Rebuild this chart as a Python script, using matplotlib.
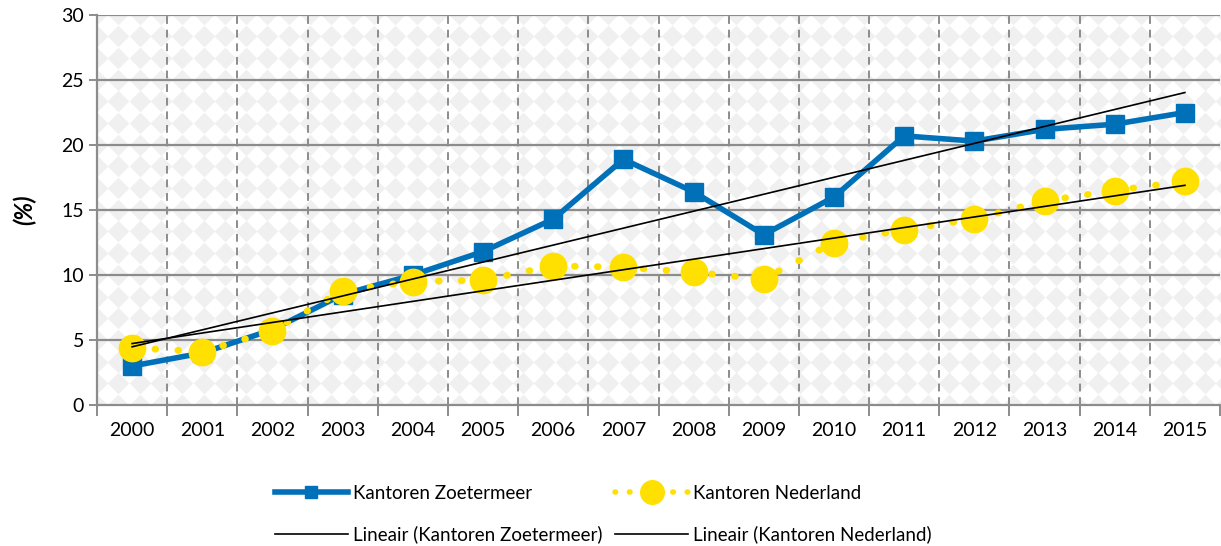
import numpy as np
import matplotlib
matplotlib.use("Agg")
import matplotlib.pyplot as plt
from matplotlib.lines import Line2D

plt.rcParams["font.family"] = ["Lato", "DejaVu Sans"]

# Data
years = ["2000", "2001", "2002", "2003", "2004", "2005", "2006", "2007",
         "2008", "2009", "2010", "2011", "2012", "2013", "2014", "2015"]
zoetermeer = [3.0, 4.0, 5.8, 8.5, 10.0, 11.8, 14.3, 18.9,
              16.4, 13.1, 16.0, 20.7, 20.3, 21.2, 21.6, 22.5]
nederland = [4.4, 4.1, 5.7, 8.8, 9.5, 9.6, 10.7, 10.6,
             10.2, 9.7, 12.5, 13.5, 14.3, 15.7, 16.5, 17.2]

blue = "#0070b8"
yellow = "#ffe000"
grid = "#8c8c8c"

fig = plt.figure(figsize=(12.21, 5.46), dpi=100)
ax = fig.add_axes([97 / 1221, 1 - 405 / 546, (1220 - 97) / 1221, 390 / 546])

x = np.arange(len(years))

# diamond background pattern
px, py = np.meshgrid(np.arange(0, 1.01, 21.3 / 1123), np.arange(0, 1.01, 21.7 / 390))
ax.scatter(px.ravel(), py.ravel(), marker="D", s=120, color="#f0f0f0",
           linewidths=0, transform=ax.transAxes, zorder=0)

# grid
for v in range(5, 31, 5):
    ax.axhline(v, color=grid, lw=1.6, zorder=1)
for b in np.arange(0.5, len(years) - 1, 1.0):
    ax.axvline(b, color=grid, lw=1.4, ls=(0, (4, 3)), zorder=1)

# trendlines
cz = np.polyfit(x, zoetermeer, 1)
cn = np.polyfit(x, nederland, 1)
ax.plot(x, np.polyval(cz, x), color="black", lw=1.2, zorder=4)
ax.plot(x, np.polyval(cn, x), color="black", lw=1.2, zorder=4)

ax.plot(x, zoetermeer, color=blue, lw=4, marker="s", markersize=13, zorder=3)
ax.plot(x, nederland, color=yellow, lw=5, ls=(0, (0.1, 3.2)),
        dash_capstyle="round", zorder=3)
ax.plot(x, nederland, ls="none", marker="o", markersize=20,
        color=yellow, markeredgewidth=0, zorder=3)

ax.set_xlim(-0.5, len(years) - 0.5)
ax.set_ylim(0, 30)
ax.set_yticks(range(0, 31, 5))
ax.set_xticks(x)
ax.set_xticklabels(years)
ax.set_xticks(np.arange(-0.5, len(years), 1.0), minor=True)
ax.tick_params(axis="x", which="major", length=0, labelsize=14, pad=12)
ax.tick_params(axis="x", which="minor", length=8, width=1.4, color=grid, direction="out")
ax.tick_params(axis="y", length=6, width=1.4, color=grid, labelsize=14, direction="out")
for side in ["top", "right"]:
    ax.spines[side].set_visible(False)
for side in ["left", "bottom"]:
    ax.spines[side].set_color(grid)
    ax.spines[side].set_linewidth(1.6)
ax.set_ylabel("(%)", fontsize=17, fontweight="bold", fontstyle="italic", labelpad=18)

h_z = Line2D([], [], color=blue, lw=4, marker="s", markersize=9)
h_n = Line2D([], [], color=yellow, lw=4, ls=(0, (0.1, 2.5)), dash_capstyle="round",
             marker="o", markersize=18, markeredgewidth=0)
h_lz = Line2D([], [], color="black", lw=1.2)
h_ln = Line2D([], [], color="black", lw=1.2)
fig.legend([h_z, h_lz, h_n, h_ln],
           ["Kantoren Zoetermeer", "Lineair (Kantoren Zoetermeer)",
            "Kantoren Nederland", "Lineair (Kantoren Nederland)"],
           loc="upper left", bbox_to_anchor=(258 / 1221, 1 - 468 / 546),
           ncol=2, frameon=False, fontsize=13.5, handlelength=3.9, handletextpad=0.25,
           columnspacing=0.7, labelspacing=1.25)

fig.savefig("out.png", dpi=100)
